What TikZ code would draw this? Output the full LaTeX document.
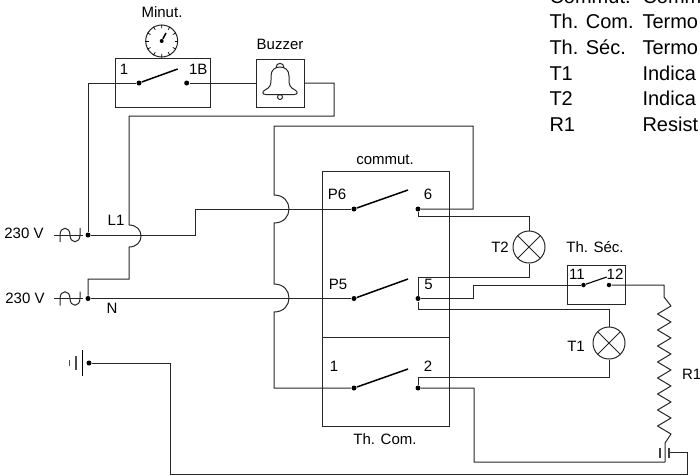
\documentclass[tikz,border=0pt]{standalone}
\usepackage{fontspec}
\setmainfont{Liberation Sans}
\usetikzlibrary{calc}

\begin{document}
\begin{tikzpicture}[x=1pt,y=-1pt,
        line width=1pt,
        wireLine/.style = {draw=black!85},
        bladeLine/.style = {draw=black,line width=1.5pt},
        dotNode/.style = {shape=circle,fill=black,inner sep=0,minimum size=5pt},
        boxNode/.style = {shape=rectangle,draw=black!85,inner sep=0},
        lampNode/.style = {shape=circle,draw=black!85,inner sep=0,minimum size=32pt,
            path picture={\draw (path picture bounding box.north west) -- (path picture bounding box.south east)
                (path picture bounding box.north east) -- (path picture bounding box.south west);}},
        clockNode/.style = {shape=circle,draw=black!85,inner sep=0,minimum size=32pt},
        ringNode/.style = {shape=circle,draw=black!85,inner sep=0},
        labelNode/.style = {inner sep=0,font=\fontsize{15}{18}\selectfont},
        legendNode/.style = {inner sep=0,anchor=base west,font=\fontsize{20}{24}\selectfont}
        ]
        \useasboundingbox (0,0) rectangle (700,475);

        % legend, cut by the page
        \foreach \lgName/\lgY/\lgKey/\lgText in {a/3/Commut./Comm,b/28.5/Th. Com./Termo,c/54/Th. Séc./Termo,
                d/80/T1/Indica,e/105.5/T2/Indica,f/131/R1/Resist}{
            \node[legendNode] (lgKey\lgName) at (549,\lgY) {\lgKey};
            \node[legendNode] (lgText\lgName) at (642,\lgY) {\lgText};
        }

        % boxes and lamps
        \node[boxNode,minimum width=95.5pt,minimum height=48.5pt] (minutBox) at (162.75,83) {};
        \node[boxNode,minimum width=48pt,minimum height=48pt] (buzzerBox) at (280,83) {};
        \node[boxNode,minimum width=127pt,minimum height=255.7pt] (commutBox) at (385.5,299) {};
        \node[boxNode,minimum width=57.5pt,minimum height=38.5pt] (secBox) at (596.5,285) {};
        \node[lampNode] (lampTwo) at (529,247) {};
        \node[lampNode] (lampOne) at (609,343) {};
        \draw[wireLine] (commutBox.west |- 0,337) -- (commutBox.east |- 0,337);

        % clock and bell
        \node[clockNode] (clock) at (161.7,41) {};
        \foreach \a in {0,30,...,330}
            \draw[line width=0.7pt] ($(clock.center)!0.78!(clock.\a)$) -- (clock.\a);
        \node[dotNode,minimum size=4pt] (clockHub) at (161.7,41) {};
        \coordinate (clockHand) at (166,33);
        \draw[bladeLine] (clockHub) -- (clockHand);
        \draw[wireLine,line join=round] (266,94.5) -- (294,94.5) .. controls (298,94.5) and (298,91.5) .. (295,90)
            .. controls (290,87.5) and (289,85) .. (289,80) -- (289,76) .. controls (289,70) and (285,67) .. (280,67)
            .. controls (275,67) and (271,70) .. (271,76) -- (271,80) .. controls (271,85) and (270,87.5) .. (265,90)
            .. controls (262,91.5) and (262,94.5) .. (266,94.5);
        \draw[wireLine] (276,67.5) .. controls (276,62) and (284,62) .. (284,67.5);
        \node[ringNode,minimum size=5pt] (clapper) at (280,97) {};

        % contacts
        \node[dotNode] (dMinA) at (139,83) {};
        \node[dotNode] (dMinB) at (186.7,83) {};
        \node[dotNode] (dLine) at (88,235) {};
        \node[dotNode] (dNeutral) at (88,298.5) {};
        \node[dotNode] (dEarth) at (89,363) {};
        \node[dotNode] (dPsix) at (354,209) {};
        \node[dotNode] (dSix) at (418,209) {};
        \node[dotNode] (dPfive) at (354,298.5) {};
        \node[dotNode] (dFive) at (418,298.5) {};
        \node[dotNode] (dOne) at (354,388) {};
        \node[dotNode] (dTwo) at (418,388) {};
        \node[dotNode,minimum size=4.5pt] (dEleven) at (583.5,285) {};
        \node[dotNode,minimum size=4.5pt] (dTwelve) at (609,285) {};
        \coordinate (bMin) at (177.7,69);
        \coordinate (bSix) at (408,190);
        \coordinate (bFive) at (408,279);
        \coordinate (bTwo) at (408,369);
        \coordinate (bSec) at (606.7,277);
        \draw[bladeLine] (dMinA) -- (bMin);
        \draw[bladeLine] (dPsix) -- (bSix);
        \draw[bladeLine] (dPfive) -- (bFive);
        \draw[bladeLine] (dOne) -- (bTwo);
        \draw[bladeLine,line width=1.1pt] (dEleven) -- (bSec);

        % corners of the wires
        \coordinate (cA) at (334,83);
        \coordinate (cB) at (334,116);
        \coordinate (cC) at (129,116);
        \coordinate (brLa) at (129,225);
        \coordinate (brLb) at (129,247);
        \coordinate (cD) at (129,279);
        \coordinate (cE) at (88,279);
        \coordinate (cF) at (195,235);
        \coordinate (cG) at (195,209);
        \coordinate (cH) at (473,209);
        \coordinate (cI) at (473,126);
        \coordinate (cJ) at (274,126);
        \coordinate (brMa) at (274,195);
        \coordinate (brMb) at (274,223);
        \coordinate (brNa) at (274,284);
        \coordinate (brNb) at (274,312);
        \coordinate (cK) at (274,388);
        \coordinate (cL) at (529,216);
        \coordinate (cM) at (529,277);
        \coordinate (cN) at (473,298.5);
        \coordinate (cO) at (473,285);
        \coordinate (cP) at (609,309);
        \coordinate (cQ) at (609,377);
        \coordinate (cR) at (418,377);
        \coordinate (cS) at (474,388);
        \coordinate (cT) at (474,462);
        \coordinate (cU) at (665,462);
        \coordinate (cV) at (664,285);
        \coordinate (rTop) at (664,297);
        \coordinate (rBot) at (665,443);
        \coordinate (cW) at (170,363);
        \coordinate (cX) at (170,474);
        \coordinate (cY) at (687.7,474);
        \coordinate (cZ) at (687.7,452.7);
        \coordinate (plug) at (669,452.7);

        % wires
        \draw[wireLine] (dLine) |- (dMinA);
        \draw[wireLine] (dMinB) -- (buzzerBox.west);
        \draw[wireLine] (buzzerBox.east) -- (cA) -- (cB) -- (cC) -- (brLa) .. controls +(16,0) and +(16,0) .. (brLb)
            -- (cD) -- (cE) -- (dNeutral);
        \draw[wireLine] (dLine) -- (cF) -- (cG) -- (dPsix);
        \draw[wireLine] (dNeutral) -- (dPfive);
        \draw[wireLine] (dSix) -- (cH) -- (cI) -- (cJ) -- (brMa) .. controls +(20,0) and +(20,0) .. (brMb)
            -- (brNa) .. controls +(20,0) and +(20,0) .. (brNb) -- (cK) -- (dOne);
        \draw[wireLine] (dSix) |- (cL) -- (lampTwo);
        \draw[wireLine] (dFive) |- (cM) -- (lampTwo);
        \draw[wireLine] (dFive) -- (cN) -- (cO) -- (dEleven);
        \draw[wireLine] (dFive) |- (cP) -- (lampOne);
        \draw[wireLine] (lampOne) -- (cQ) -- (cR) -- (dTwo);
        \draw[wireLine,line join=round] (dTwelve) -- (cV) -- (rTop)
            \foreach \i in {0,...,7}{ -- (671,{306+16*\i}) -- (657.5,{314+16*\i}) }
            -- (671,434) -- (rBot) -- (cU) -- (cT) -- (cS) -- (dTwo);
        \draw[wireLine] (dEarth) -- (cW) -- (cX) -- (cY) -- (cZ) -- (plug);

        % plug plates
        \draw[line width=1.1pt,black!75] (660,448) -- (660,458);
        \draw[line width=1.1pt,black!75] (669,448) -- (669,458);

        % earth plates
        \draw[line width=1.1pt] (82.3,350) -- (82.3,376);
        \draw[line width=1.1pt,black!70] (76,356) -- (76,370);
        \draw[line width=1.1pt,black!70] (69.3,360) -- (69.3,366);

        % supply signs
        \foreach \acY in {235,298.5}{
            \draw[wireLine] (54,\acY) -- (83,\acY);
            \draw[wireLine] (60,\acY+7) -- (60,\acY) .. controls (60,\acY-9) and (70,\acY-9) .. (70,\acY)
                .. controls (70,\acY+9) and (80,\acY+9) .. (80,\acY) -- (80,\acY-7);
        }

        % labels
        \node[labelNode] (minutLabel) at (162,12) {Minut.};
        \node[labelNode] (buzzerLabel) at (280,44) {Buzzer};
        \node[labelNode] (minAlabel) at (124,69) {1};
        \node[labelNode] (minBlabel) at (198.3,69) {1B};
        \node[labelNode] (voltA) at (24,233.5) {230 V};
        \node[labelNode] (voltB) at (25,298.5) {230 V};
        \node[labelNode] (lineLabel) at (116,220) {L1};
        \node[labelNode] (neutralLabel) at (112,308) {N};
        \node[labelNode] (commutLabel) at (385,160) {commut.};
        \node[labelNode] (comLabel) at (385,439) {Th. Com.};
        \node[labelNode] (psixLabel) at (337,194) {P6};
        \node[labelNode] (sixLabel) at (428,194) {6};
        \node[labelNode] (pfiveLabel) at (338,284) {P5};
        \node[labelNode] (fiveLabel) at (428.5,284.5) {5};
        \node[labelNode] (oneLabel) at (334,366) {1};
        \node[labelNode] (twoLabel) at (428,366) {2};
        \node[labelNode] (lampTwoLabel) at (500,247) {T2};
        \node[labelNode] (lampOneLabel) at (576,346) {T1};
        \node[labelNode] (secLabel) at (595,247) {Th. Séc.};
        \node[labelNode] (elevenLabel) at (577,274.5) {11};
        \node[labelNode] (twelveLabel) at (615,274.5) {12};
        \node[labelNode] (resLabel) at (691.7,374) {R1};
    \end{tikzpicture}
\end{document}
